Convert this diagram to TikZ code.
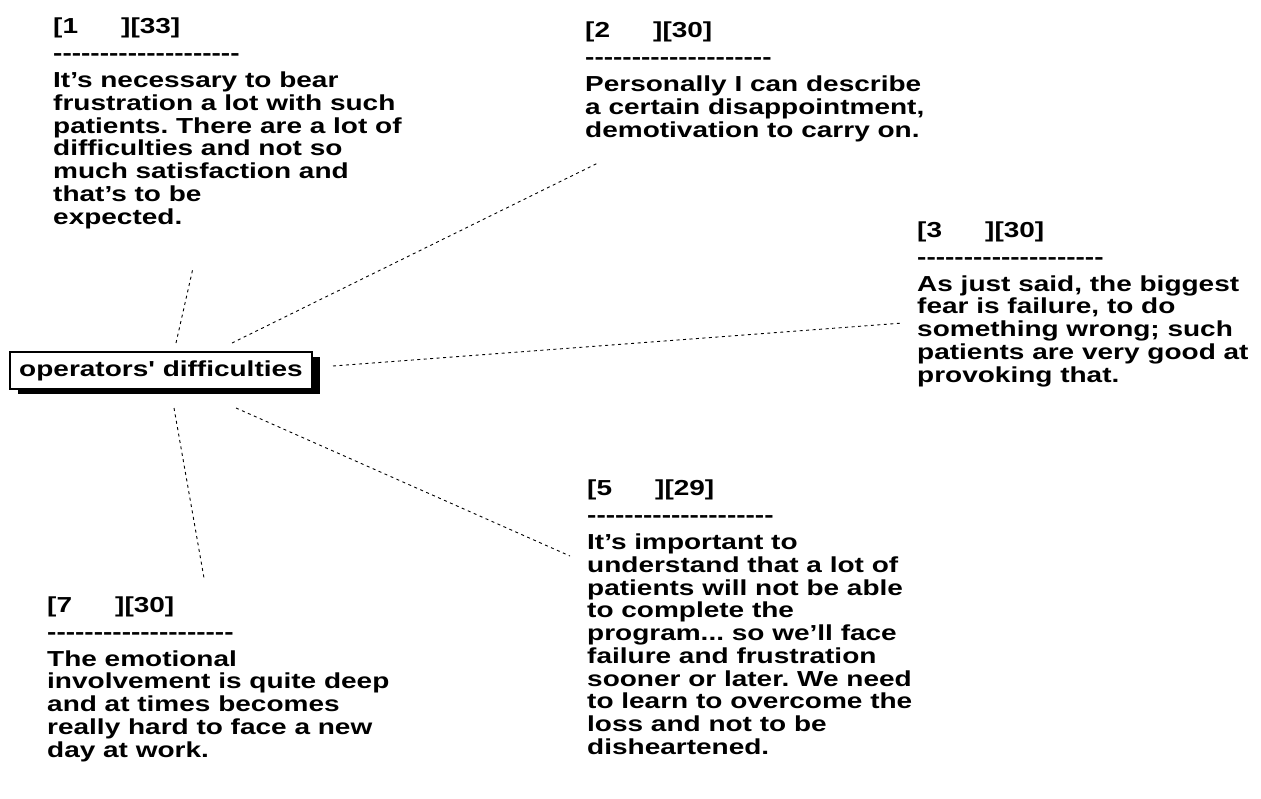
\documentclass[tikz,border=0pt]{standalone}
\usepackage{fontspec}
\newfontfamily\dfont{Liberation Sans}[FakeStretch=1.29]
\usetikzlibrary{shadows}
\frenchspacing
\tikzset{
  txt/.style={anchor=base west, inner sep=0pt, font=\dfont\bfseries\fontsize{21.7}{22.75}\selectfont},
  hub/.style={draw=black, line width=1.4pt, fill=white, minimum width=302pt, minimum height=37pt, inner sep=0pt,
    font=\dfont\bfseries\fontsize{21.7}{22.75}\selectfont,
    drop shadow={shadow xshift=8pt, shadow yshift=-5pt, opacity=1, fill=black}},
  link/.style={draw=black, line width=0.9pt, dash pattern=on 3pt off 3.5pt}
}
\newcommand\hdr[2]{\makebox[68pt][l]{[#1}][#2]}
\newcommand\blk[3]{\begin{tabular}[t]{@{}l@{}}\hdr{#1}{#2}\\[4.25pt]--------------------\\[4.25pt]#3\end{tabular}}
\begin{document}
\begin{tikzpicture}[x=1pt,y=-1pt]
\useasboundingbox (0,0) rectangle (1261,798);
\fill[white] (0,0) rectangle (1261,798);

\node[hub] (hub) at (161,370.5) {operators' difficulties};

\node[txt] (b1) at (53,33.5) {\blk{1}{33}{It’s necessary to bear\\frustration a lot with such\\patients. There are a lot of\\difficulties and not so\\much satisfaction and\\that’s to be\\expected.}};
\node[txt] (b2) at (585,37.5) {\blk{2}{30}{Personally I can describe\\a certain disappointment,\\demotivation to carry on.}};
\node[txt] (b3) at (917,237) {\blk{3}{30}{As just said, the biggest\\fear is failure, to do\\something wrong; such\\patients are very good at\\provoking that.}};
\node[txt] (b5) at (587,495.5) {\blk{5}{29}{It’s important to\\understand that a lot of\\patients will not be able\\to complete the\\program... so we’ll face\\failure and frustration\\sooner or later. We need\\to learn to overcome the\\loss and not to be\\disheartened.}};
\node[txt] (b7) at (47,612) {\blk{7}{30}{The emotional\\involvement is quite deep\\and at times becomes\\really hard to face a new\\day at work.}};

\coordinate (e1a) at (193,268); \coordinate (e1b) at (176,343);
\coordinate (e2a) at (598,163); \coordinate (e2b) at (232,343);
\coordinate (e3a) at (903,323); \coordinate (e3b) at (333,366);
\coordinate (e5a) at (570,556); \coordinate (e5b) at (236,408);
\coordinate (e7a) at (204,578); \coordinate (e7b) at (174,408);

\draw[link] (e1b) -- (e1a);
\draw[link] (e2b) -- (e2a);
\draw[link] (e3b) -- (e3a);
\draw[link] (e5b) -- (e5a);
\draw[link] (e7b) -- (e7a);
\end{tikzpicture}
\end{document}
